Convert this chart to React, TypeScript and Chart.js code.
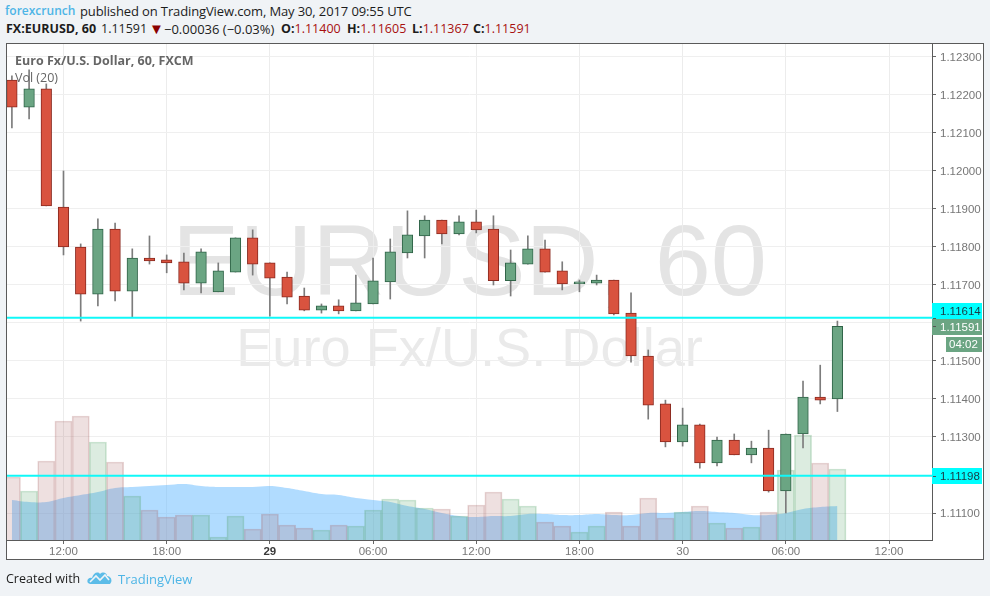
import React, { useEffect, useRef } from "react";
import { Chart, registerables } from "chart.js";

Chart.register(...registerables);

const opens = [1.12239,1.12168,1.12216,1.11905,1.118,1.11676,1.11847,1.11684,1.11771,1.11766,1.11761,1.11705,1.11682,1.11734,1.11824,1.11758,1.11721,1.11671,1.11634,1.11645,1.11632,1.1165,1.11708,1.11784,1.11829,1.11871,1.11834,1.11866,1.11847,1.11711,1.11755,1.11795,1.11737,1.11703,1.11705,1.11713,1.11626,1.11513,1.11387,1.11287,1.11332,1.11232,1.11292,1.11253,1.11271,1.11158,1.11308,1.11405,1.114];
const highs = [1.1225,1.12266,1.12229,1.12,1.11808,1.11874,1.11863,1.11795,1.11829,1.11779,1.11784,1.11795,1.11758,1.11824,1.11845,1.11758,1.11734,1.11692,1.1165,1.11661,1.11726,1.11771,1.11821,1.11895,1.11882,1.11871,1.11882,1.11897,1.11882,1.11792,1.11829,1.11818,1.11761,1.11713,1.11726,1.11713,1.11679,1.11529,1.11397,1.11376,1.11334,1.113,1.11308,1.11289,1.11318,1.11308,1.11447,1.11489,1.11605];
const lows = [1.12113,1.12137,1.11908,1.11779,1.11605,1.11645,1.11658,1.11616,1.11755,1.11732,1.11687,1.11679,1.11682,1.11734,1.11726,1.11618,1.1165,1.11632,1.11626,1.11624,1.11632,1.1165,1.11663,1.11771,1.11771,1.11808,1.11832,1.11837,1.117,1.11671,1.11755,1.11734,1.11687,1.11682,1.117,1.11621,1.11497,1.11347,1.11274,1.11276,1.11218,1.11224,1.11253,1.11232,1.11155,1.111,1.11271,1.11387,1.11367];
const closes = [1.12168,1.12216,1.11908,1.118,1.11676,1.11847,1.11684,1.11771,1.11763,1.11758,1.11705,1.11787,1.11737,1.11824,1.11755,1.11718,1.11668,1.11634,1.11645,1.11632,1.11653,1.11711,1.11787,1.11832,1.11871,1.11834,1.11866,1.11845,1.11711,1.11758,1.11795,1.11734,1.11703,1.11708,1.11713,1.11624,1.11513,1.11384,1.11287,1.11332,1.11232,1.11292,1.11253,1.11271,1.11158,1.11308,1.11405,1.11397,1.11591];
const volumes = [63,49,79,119,124,98,78,44,30,23,25,25,3,24,11,26,15,12,10,15,14,30,41,40,32,31,24,35,48,41,34,18,14,8,14,28,14,42,22,28,34,17,12,13,28,70,105,77,71];
const volumeMA = [40,38,38,42,45,48,52,53,54,55,56,54,53,53,53,54,52,49,46,45,42,40,38,34,31,27,24,23,24,24,26,26,25,25,26,25,25,27,27,28,29,28,27,25,25,27,31,33,34];
const xTickIndex = [3,9,15,21,27,33,39,45,51];
const xTickLabels = ["12:00","18:00","29","06:00","12:00","18:00","30","06:00","12:00"];
const yTickValues = [1.111,1.112,1.113,1.114,1.115,1.116,1.117,1.118,1.119,1.12,1.121,1.122,1.123];
const levelLines = [1.11614,1.11198];
const lastPrice = 1.11591;
const countdown = "04:02";

const SANS = "'Liberation Sans', Arial, sans-serif";
const HEAD = "'Open Sans', sans-serif";

const isUp = (i: number) => closes[i] >= opens[i] && i !== 2;

const framePlugin = {
  id: "frame",
  beforeDraw(chart: any) {
    const { ctx, chartArea: a } = chart;
    ctx.save();
    ctx.fillStyle = "#ffffff";
    ctx.fillRect(6, 43, 977, 516);
    ctx.fillStyle = "rgba(228,228,228,1)";
    ctx.textAlign = "center";
    ctx.textBaseline = "alphabetic";
    ctx.font = `101px ${SANS}`;
    ctx.fillText("EURUSD, 60", (a.left + a.right) / 2, 295);
    ctx.fillStyle = "rgba(234,234,234,1)";
    ctx.font = `54.2px ${SANS}`;
    ctx.fillText("Euro Fx/U.S. Dollar", (a.left + a.right) / 2, 366);
    ctx.restore();
  },
  afterDraw(chart: any) {
    const { ctx, scales } = chart;
    const y = scales.y;
    ctx.save();
    ctx.strokeStyle = "#5a5a5a";
    ctx.lineWidth = 1;
    ctx.strokeRect(6.5, 43.5, 977, 516);
    ctx.font = `11.5px ${SANS}`;
    ctx.textAlign = "left";
    ctx.textBaseline = "middle";
    const box = (v: number, bg: string, fg: string, dy: number) => {
      const py = Math.round(y.getPixelForValue(v));
      const cy = py + dy;
      ctx.fillStyle = bg;
      ctx.fillRect(932, cy - 8, 50, 16);
      ctx.fillStyle = "#555";
      ctx.fillRect(933, py, 3, 1);
      ctx.fillStyle = fg;
      ctx.fillText(v.toFixed(5), 940, cy + 1);
    };
    box(levelLines[0], "#00ffff", "#1a3a44", -7);
    box(levelLines[1], "#00ffff", "#1a3a44", 0);
    box(lastPrice, "#6ba583", "#ffffff", 1);
    ctx.fillStyle = "#6ba583";
    ctx.fillRect(946, 337, 36, 15);
    ctx.fillStyle = "#ffffff";
    ctx.fillText(countdown, 949, 345);
    ctx.font = `bold 12.5px ${HEAD}`;
    ctx.fillStyle = "#666666";
    ctx.textBaseline = "alphabetic";
    ctx.fillText("Euro Fx/U.S. Dollar, 60, FXCM", 15, 65);
    ctx.font = `12.5px ${HEAD}`;
    ctx.fillText("Vol (20)", 15, 82);
    ctx.restore();
  },
};

const spanStyle = (left: number, top: number, extra: React.CSSProperties = {}): React.CSSProperties => ({
  position: "absolute", left, top, whiteSpace: "nowrap", fontFamily: HEAD, fontSize: 12.5, lineHeight: "18px", color: "#1c1c1c", ...extra,
});

export default function App() {
  const ref = useRef<HTMLCanvasElement | null>(null);

  useEffect(() => {
    if (!ref.current) return;
    const idx = opens.map((_, i) => i);
    const xMax = 53.5;
    const xMin = -0.285;
    const chart = new Chart(ref.current, {
      type: "bar",
      data: {
        datasets: [
          {
            type: "line",
            label: "Vol MA",
            data: idx.map((i) => ({ x: i, y: volumeMA[i] })),
            yAxisID: "vol",
            borderWidth: 0,
            pointRadius: 0,
            tension: 0.4,
            fill: "origin",
            backgroundColor: "rgba(100,185,255,0.5)",
            order: 10,
          },
          {
            label: "Volume",
            data: idx.map((i) => ({ x: i, y: volumes[i] })),
            yAxisID: "vol",
            barThickness: 17.2,
            borderWidth: 1,
            backgroundColor: idx.map((i) => (isUp(i) ? "rgba(80,160,100,0.2)" : "rgba(170,100,100,0.2)")),
            borderColor: idx.map((i) => (isUp(i) ? "rgba(80,160,100,0.28)" : "rgba(170,100,100,0.28)")),
            order: 9,
          },
          {
            label: "Wick",
            data: idx.map((i) => ({ x: i, y: [lows[i], highs[i]] })),
            yAxisID: "y",
            barThickness: 1,
            backgroundColor: "#7c7c7c",
            order: 8,
          },
          {
            label: "Body",
            data: idx.map((i) => ({ x: i, y: [opens[i], closes[i]] })),
            yAxisID: "y",
            barThickness: 10.6,
            minBarLength: 2,
            borderWidth: 1,
            borderSkipped: false,
            backgroundColor: idx.map((i) => (isUp(i) ? "#6ba583" : "#d9533f")),
            borderColor: idx.map((i) => (isUp(i) ? "#2f6347" : "#8a2a20")),
            order: 7,
          },
          {
            type: "line",
            label: "Level 1",
            data: [{ x: xMin, y: levelLines[0] }, { x: xMax, y: levelLines[0] }],
            yAxisID: "y",
            borderColor: "#10f8f8",
            borderWidth: 2,
            pointRadius: 0,
            order: 1,
          },
          {
            type: "line",
            label: "Level 2",
            data: [{ x: xMin, y: levelLines[1] }, { x: xMax, y: levelLines[1] }],
            yAxisID: "y",
            borderColor: "#10f8f8",
            borderWidth: 2,
            pointRadius: 0,
            order: 1,
          },
        ] as any,
      },
      options: {
        animation: false,
        responsive: false,
        devicePixelRatio: 1,
        datasets: { bar: { grouped: false } } as any,
        layout: { padding: { left: 7, right: 7, top: 44, bottom: 37 } },
        plugins: { legend: { display: false }, tooltip: { enabled: false } },
        scales: {
          x: {
            type: "linear",
            offset: false,
            min: xMin,
            max: xMax,
            afterFit: (s: any) => { s.height = 19; },
            afterBuildTicks: (s: any) => { s.ticks = xTickIndex.map((v) => ({ value: v })); },
            grid: { offset: false, color: "#ececec", tickColor: "#666666", tickLength: 4 },
            border: { color: "#5a5a5a", width: 1 },
            ticks: {
              autoSkip: false,
              maxRotation: 0,
              padding: 1,
              callback: (v: any) => xTickLabels[xTickIndex.indexOf(Number(v))] ?? "",
              color: (c: any) => (xTickLabels[c.index] === "29" ? "#3a3a3a" : "#777777"),
              font: (c: any) => ({ family: SANS, size: 11.5, weight: xTickLabels[c.index] === "29" ? "bold" : "normal" }),
            },
          },
          y: {
            type: "linear",
            position: "right",
            min: 1.11029,
            max: 1.12334,
            afterFit: (s: any) => { s.width = 51; },
            afterBuildTicks: (s: any) => { s.ticks = yTickValues.map((v) => ({ value: v })); },
            grid: { color: "#efefef", tickColor: "#666666", tickLength: 4 },
            border: { color: "#5a5a5a", width: 1 },
            ticks: {
              padding: 4,
              labelOffset: 1,
              color: "#777777",
              font: { family: SANS, size: 11.5 },
              callback: (v: any) => Number(v).toFixed(5),
            },
          },
          vol: {
            type: "linear",
            display: false,
            min: 0,
            max: 496,
          },
        },
      },
      plugins: [framePlugin],
    } as any);
    return () => chart.destroy();
  }, []);

  const red = { color: "#a80f0f" };
  const b = { fontWeight: 700 };
  return (
    <div style={{ position: "absolute", left: 0, top: 0, width: 990, height: 596, background: "#f0f3f6", overflow: "hidden" }}>
      <span style={spanStyle(5, 2, { color: "#4db5e6", fontWeight: 600, fontSize: 12 })}>forexcrunch</span>
      <span style={spanStyle(80, 2, { fontSize: 13, letterSpacing: -0.12 })}>published on TradingView.com, May 30, 2017 09:55 UTC</span>
      <span style={spanStyle(6, 20, { fontWeight: 700 })}>FX:EURUSD, 60</span>
      <span style={spanStyle(101, 20)}>1.11591</span>
      <span style={spanStyle(149, 19, { color: "#8b0000", fontSize: 15 })}>▼</span>
      <span style={spanStyle(164, 20, { fontSize: 13 })}>−0.00036 (−0.03%)</span>
      <span style={spanStyle(281, 20)}><span style={b}>O:</span><span style={red}>1.11400</span></span>
      <span style={spanStyle(347, 20)}><span style={b}>H:</span><span style={red}>1.11605</span></span>
      <span style={spanStyle(412, 20)}><span style={b}>L:</span><span style={red}>1.11367</span></span>
      <span style={spanStyle(473, 20)}><span style={b}>C:</span><span style={red}>1.11591</span></span>
      <canvas ref={ref} width={990} height={596} style={{ position: "absolute", left: 0, top: 0, width: 990, height: 596 }} />
      <span style={spanStyle(6, 570)}>Created with</span>
      <svg style={{ position: "absolute", left: 87, top: 570 }} width="25" height="15" viewBox="0 0 25 15">
        <path d="M1 13 C-1 10 2 7 5 8 C6 3 11 1 13 4 C16 1 20 3 20 6 C24 6 26 11 23 14 L3 14 Z" fill="#5cbce8" />
        <path d="M3 12 L9 6 L13 10 L18 5 L22 10" stroke="#f0f3f6" strokeWidth="1.6" fill="none" />
      </svg>
      <span style={spanStyle(118, 570, { color: "#4db5e6", fontSize: 13 })}>TradingView</span>
    </div>
  );
}
